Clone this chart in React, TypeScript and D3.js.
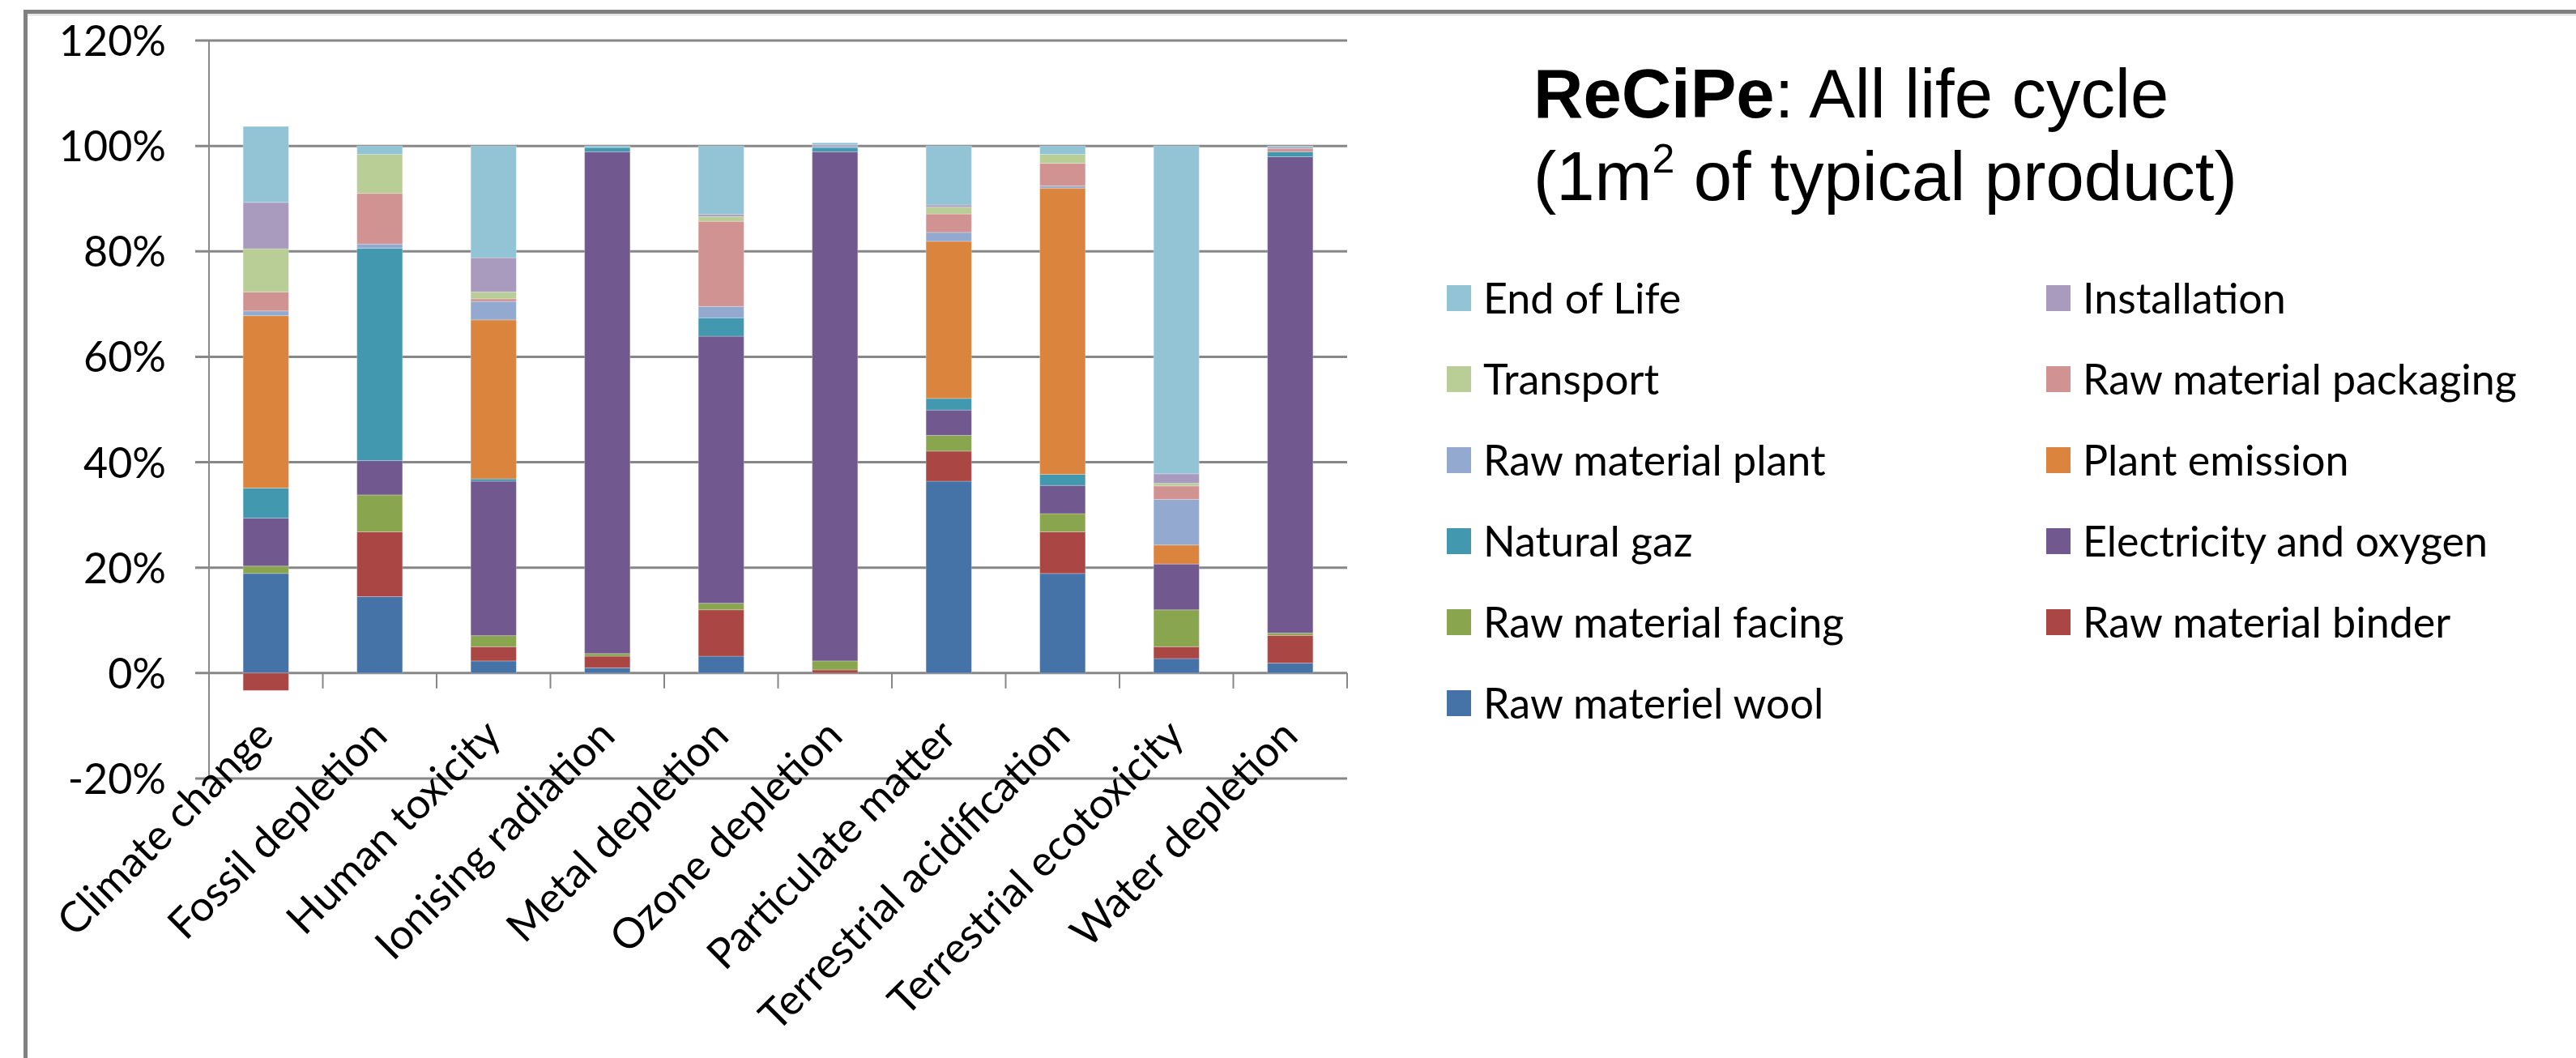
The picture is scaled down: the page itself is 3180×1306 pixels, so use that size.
import React from "react";
import * as d3 from "d3";

// Impact categories (x axis)
const categories = [
  "Climate change",
  "Fossil depletion",
  "Human toxicity",
  "Ionising radiation",
  "Metal depletion",
  "Ozone depletion",
  "Particulate matter",
  "Terrestrial acidification",
  "Terrestrial ecotoxicity",
  "Water depletion",
];

// Contribution of each life-cycle stage, in % of the category total
const rawMaterielWool = [18.9, 14.5, 2.3, 1.0, 3.2, 0, 36.4, 18.9, 2.75, 1.9];
const rawMaterialBinder = [-3.3, 12.3, 2.7, 2.2, 8.8, 0.6, 5.7, 7.9, 2.25, 5.25];
const rawMaterialFacing = [1.4, 7.0, 2.1, 0.5, 1.25, 1.7, 3.0, 3.45, 7.0, 0.45];
const electricityAndOxygen = [9.1, 6.5, 29.3, 95.2, 50.65, 96.6, 4.8, 5.35, 8.7, 90.35];
const naturalGaz = [5.7, 40.3, 0.45, 0.8, 3.5, 0.8, 2.2, 2.1, 0, 0.95];
const plantEmission = [32.7, 0, 30.15, 0, 0, 0, 29.8, 54.3, 3.6, 0];
const rawMaterialPlant = [0.9, 0.8, 3.5, 0, 2.15, 0.2, 1.7, 0.4, 8.65, 0];
const rawMaterialPackaging = [3.6, 9.6, 0.5, 0, 16.15, 0, 3.5, 4.3, 2.55, 0.6];
const transport = [8.2, 7.4, 1.3, 0, 0.9, 0, 1.3, 1.7, 0.5, 0];
const installation = [8.8, 0, 6.5, 0, 0.4, 0.3, 0.4, 0, 1.8, 0.3];
const endOfLife = [14.4, 1.6, 21.2, 0.3, 13.0, 0.4, 11.2, 1.6, 62.2, 0.2];

// Stack order, bottom to top
const seriesNames = [
  "Raw materiel wool",
  "Raw material binder",
  "Raw material facing",
  "Electricity and oxygen",
  "Natural gaz",
  "Plant emission",
  "Raw material plant",
  "Raw material packaging",
  "Transport",
  "Installation",
  "End of Life",
];
const seriesValues = [
  rawMaterielWool,
  rawMaterialBinder,
  rawMaterialFacing,
  electricityAndOxygen,
  naturalGaz,
  plantEmission,
  rawMaterialPlant,
  rawMaterialPackaging,
  transport,
  installation,
  endOfLife,
];
const seriesColors = [
  "#4572A7",
  "#AA4643",
  "#89A54E",
  "#71588F",
  "#4198AF",
  "#DB843D",
  "#93A9CF",
  "#D19392",
  "#B9CD96",
  "#A99BBD",
  "#93C4D6",
];

const yTicks = [-20, 0, 20, 40, 60, 80, 100, 120];

const W = 3180;
const H = 1306;
const FONT = "Lato, 'Noto Sans', sans-serif";

export default function App() {
  const plotLeft = 258;
  const plotRight = 1663;
  const x = d3
    .scaleBand<string>()
    .domain(categories)
    .range([plotLeft, plotRight])
    .paddingInner(0.6)
    .paddingOuter(0.3);
  const y = d3.scaleLinear().domain([-20, 120]).range([961, 50]);

  const rows = categories.map((c, i) => {
    const r: Record<string, number | string> = { category: c };
    seriesNames.forEach((s, j) => (r[s] = seriesValues[j][i]));
    return r;
  });
  const stacked = d3
    .stack<Record<string, number | string>>()
    .keys(seriesNames)
    .offset(d3.stackOffsetDiverging)(rows as any);

  const step = (plotRight - plotLeft) / categories.length;
  const boundaries = d3.range(categories.length + 1).map((k) => plotLeft + k * step);

  // Legend: two columns, row-major in reverse stack order
  const legendOrder = seriesNames.map((_, i) => seriesNames.length - 1 - i);
  const legendCols = [1786, 2526];
  const legendTop = 368;
  const legendRow = 100;

  return (
    <svg
      width={W}
      height={H}
      viewBox={`0 0 ${W} ${H}`}
      style={{ position: "absolute", left: 0, top: 0, display: "block", background: "#fff" }}
    >
      <rect x={0} y={0} width={W} height={H} fill="#fff" />
      {/* chart frame */}
      <line x1={31.5} y1={14.5} x2={W} y2={14.5} stroke="#808080" strokeWidth={5} />
      <line x1={34} y1={18.5} x2={W} y2={18.5} stroke="#d8d8d8" strokeWidth={1.5} />
      <line x1={31.5} y1={12} x2={31.5} y2={H} stroke="#808080" strokeWidth={5} />

      {/* gridlines with outward ticks */}
      {yTicks.map((t) => (
        <line
          key={t}
          x1={plotLeft - 17}
          x2={plotRight}
          y1={y(t)}
          y2={y(t)}
          stroke="#878787"
          strokeWidth={3}
        />
      ))}
      {/* y axis */}
      <line x1={plotLeft} x2={plotLeft} y1={y(120)} y2={y(-20)} stroke="#8a8a8a" strokeWidth={2} />
      {yTicks.map((t) => (
        <text
          key={t}
          x={205}
          y={y(t) + 19}
          textAnchor="end"
          fontFamily={FONT}
          fontSize={52}
          fill="#000"
        >
          {`${t}%`}
        </text>
      ))}

      {/* bars */}
      {stacked.map((layer, j) => (
        <g key={layer.key} fill={seriesColors[j]}>
          {layer.map((d, i) => {
            const top = y(Math.max(d[0], d[1]));
            const bottom = y(Math.min(d[0], d[1]));
            if (bottom - top <= 0) return null;
            return (
              <rect
                key={i}
                x={x(categories[i])}
                y={top}
                width={x.bandwidth()}
                height={bottom - top}
                stroke="#ffffff"
                strokeOpacity={0.25}
                strokeWidth={1}
              />
            );
          })}
        </g>
      ))}

      {/* category ticks below the zero line */}
      {boundaries.map((bx, k) => (
        <line key={k} x1={bx} x2={bx} y1={y(0)} y2={y(0) + 19} stroke="#878787" strokeWidth={2} />
      ))}

      {/* category labels */}
      {categories.map((c) => {
        const cx = (x(c) as number) + x.bandwidth() / 2;
        return (
          <text
            key={c}
            transform={`translate(${cx + 12},${y(0) + 80}) rotate(-45)`}
            textAnchor="end"
            fontFamily={FONT}
            fontSize={52}
            fill="#000"
          >
            {c}
          </text>
        );
      })}

      {/* title */}
      <text x={1893} y={145} fontFamily="'Liberation Sans', Arial, sans-serif" fontSize={85} fill="#000">
        <tspan fontWeight="bold">ReCiPe</tspan>
        <tspan>: All life cycle</tspan>
      </text>
      <text x={1893} y={247} fontFamily="'Liberation Sans', Arial, sans-serif" fontSize={85} fill="#000">
        <tspan>(1m</tspan>
        <tspan fontSize={50} dy={-34}>2</tspan>
        <tspan dy={34}> of typical product)</tspan>
      </text>

      {/* legend */}
      {legendOrder.map((si, k) => {
        const col = k % 2;
        const row = Math.floor(k / 2);
        const lx = legendCols[col];
        const cy = legendTop + row * legendRow;
        return (
          <g key={seriesNames[si]}>
            <rect x={lx} y={cy - 16} width={30} height={32} fill={seriesColors[si]} />
            <text x={lx + 45} y={cy + 19} fontFamily={FONT} fontSize={52} fill="#000">
              {seriesNames[si]}
            </text>
          </g>
        );
      })}
    </svg>
  );
}
